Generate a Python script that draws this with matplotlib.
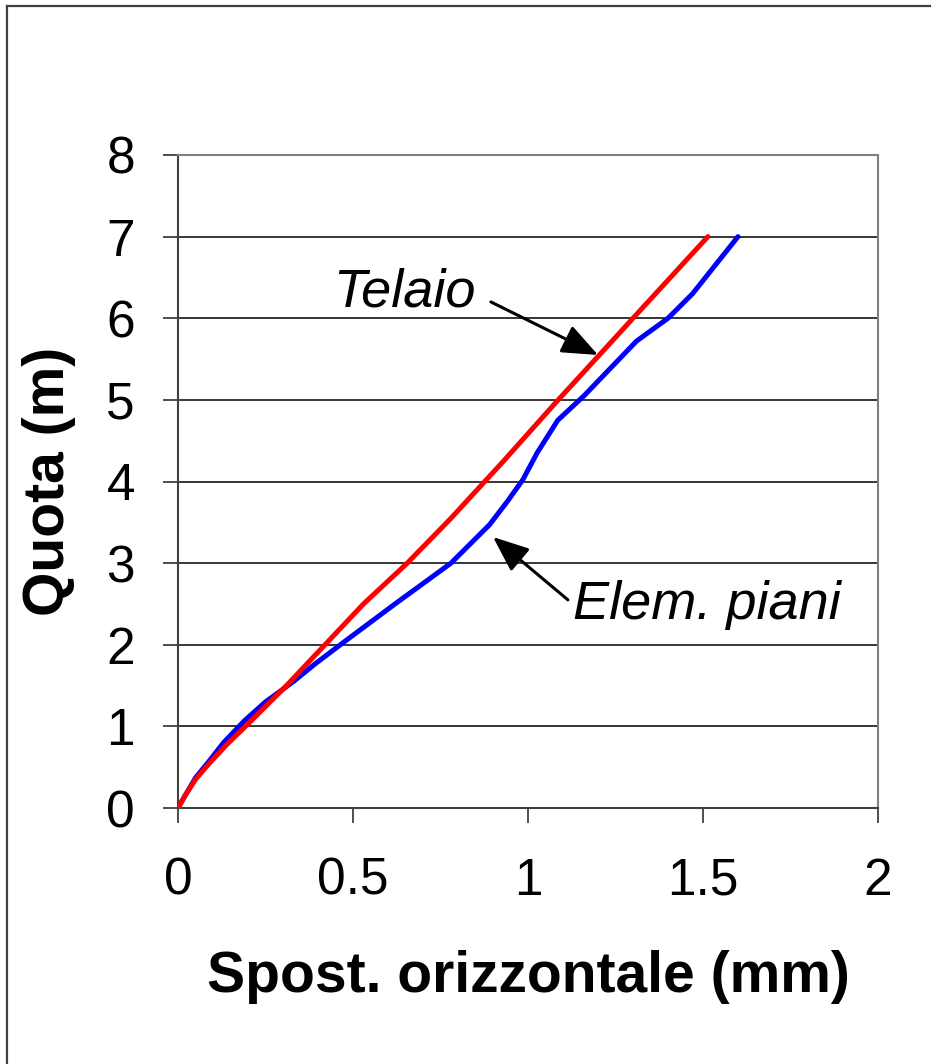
import matplotlib
matplotlib.use("Agg")
import matplotlib.pyplot as plt
from matplotlib.lines import Line2D

plt.rcParams['font.family'] = ['Liberation Sans', 'DejaVu Sans']

# displacement (mm) vs height (m)
telaio_x = [0.0, 0.02, 0.05, 0.09, 0.14, 0.20, 0.31, 0.42, 0.53, 0.655, 0.78, 0.93,
            1.08, 1.30, 1.514]
telaio_y = [0.0, 0.15, 0.35, 0.55, 0.78, 1.03, 1.50, 2.00, 2.50, 3.00, 3.55, 4.25,
            4.97, 6.00, 7.00]

elem_x = [0.0, 0.02, 0.05, 0.09, 0.13, 0.19, 0.25, 0.33, 0.39, 0.47, 0.62, 0.78, 0.89,
          0.94, 0.985, 1.026, 1.085, 1.16, 1.31, 1.40, 1.47, 1.60]
elem_y = [0.0, 0.15, 0.37, 0.58, 0.80, 1.07, 1.30, 1.55, 1.76, 2.02, 2.50, 3.00, 3.47,
          3.75, 4.02, 4.35, 4.75, 5.05, 5.72, 6.00, 6.30, 7.00]

xticks = [0, 0.5, 1, 1.5, 2]
xtick_labels = ['0', '0.5', '1', '1.5', '2']
yticks = [0, 1, 2, 3, 4, 5, 6, 7, 8]

W, H = 931, 1064
fig = plt.figure(figsize=(W / 100, H / 100), dpi=100)
ax = fig.add_axes([178 / W, 1 - 808 / H, 700 / W, 653 / H])

ax.plot(elem_x, elem_y, color='#0000ff', lw=3.6, solid_capstyle='round',
        solid_joinstyle='round', zorder=3)
ax.plot(telaio_x, telaio_y, color='#ff0000', lw=3.6, solid_capstyle='round',
        solid_joinstyle='round', zorder=4)

ax.set_xlim(0, 2)
ax.set_ylim(0, 8)
ax.set_xticks(xticks)
ax.set_xticklabels(xtick_labels)
ax.set_yticks(yticks)
ax.yaxis.grid(True, color='black', lw=1.1)
ax.set_axisbelow(True)

for s in ['top', 'right']:
    ax.spines[s].set_color('#808080')
    ax.spines[s].set_linewidth(1.5)
for s in ['left', 'bottom']:
    ax.spines[s].set_color('#404040')
    ax.spines[s].set_linewidth(1.5)

ax.tick_params(axis='both', direction='out', length=11, width=1.3, color='#404040',
               labelsize=37)
ax.tick_params(axis='y', pad=20)
ax.tick_params(axis='x', pad=24)

ax.set_xlabel('Spost. orizzontale (mm)', fontsize=41, fontweight='bold', labelpad=32)
ax.set_ylabel('Quota (m)', fontsize=41, fontweight='bold', labelpad=22)

arrow = dict(arrowstyle='-|>,head_length=2.2,head_width=0.9', color='black', lw=2.2,
             shrinkA=0, shrinkB=0)
ax.annotate('', xy=(1.20, 5.55), xytext=(0.894, 6.20), arrowprops=arrow)
ax.annotate('', xy=(0.90, 3.32), xytext=(1.114, 2.55), arrowprops=arrow)
ax.text(0.646, 6.31, 'Telaio', fontsize=39, style='italic', ha='center', va='center')
ax.text(1.51, 2.49, 'Elem. piani', fontsize=39, style='italic', ha='center', va='center')

# outer frame (left and top edges only show)
fig.add_artist(Line2D([7 / W, 7 / W], [0, 1 - 6 / H], color='#404040', lw=1.6,
                      transform=fig.transFigure))
fig.add_artist(Line2D([7 / W, 1], [1 - 6 / H, 1 - 6 / H], color='#404040', lw=1.6,
                      transform=fig.transFigure))

fig.savefig('out.png', dpi=100)
